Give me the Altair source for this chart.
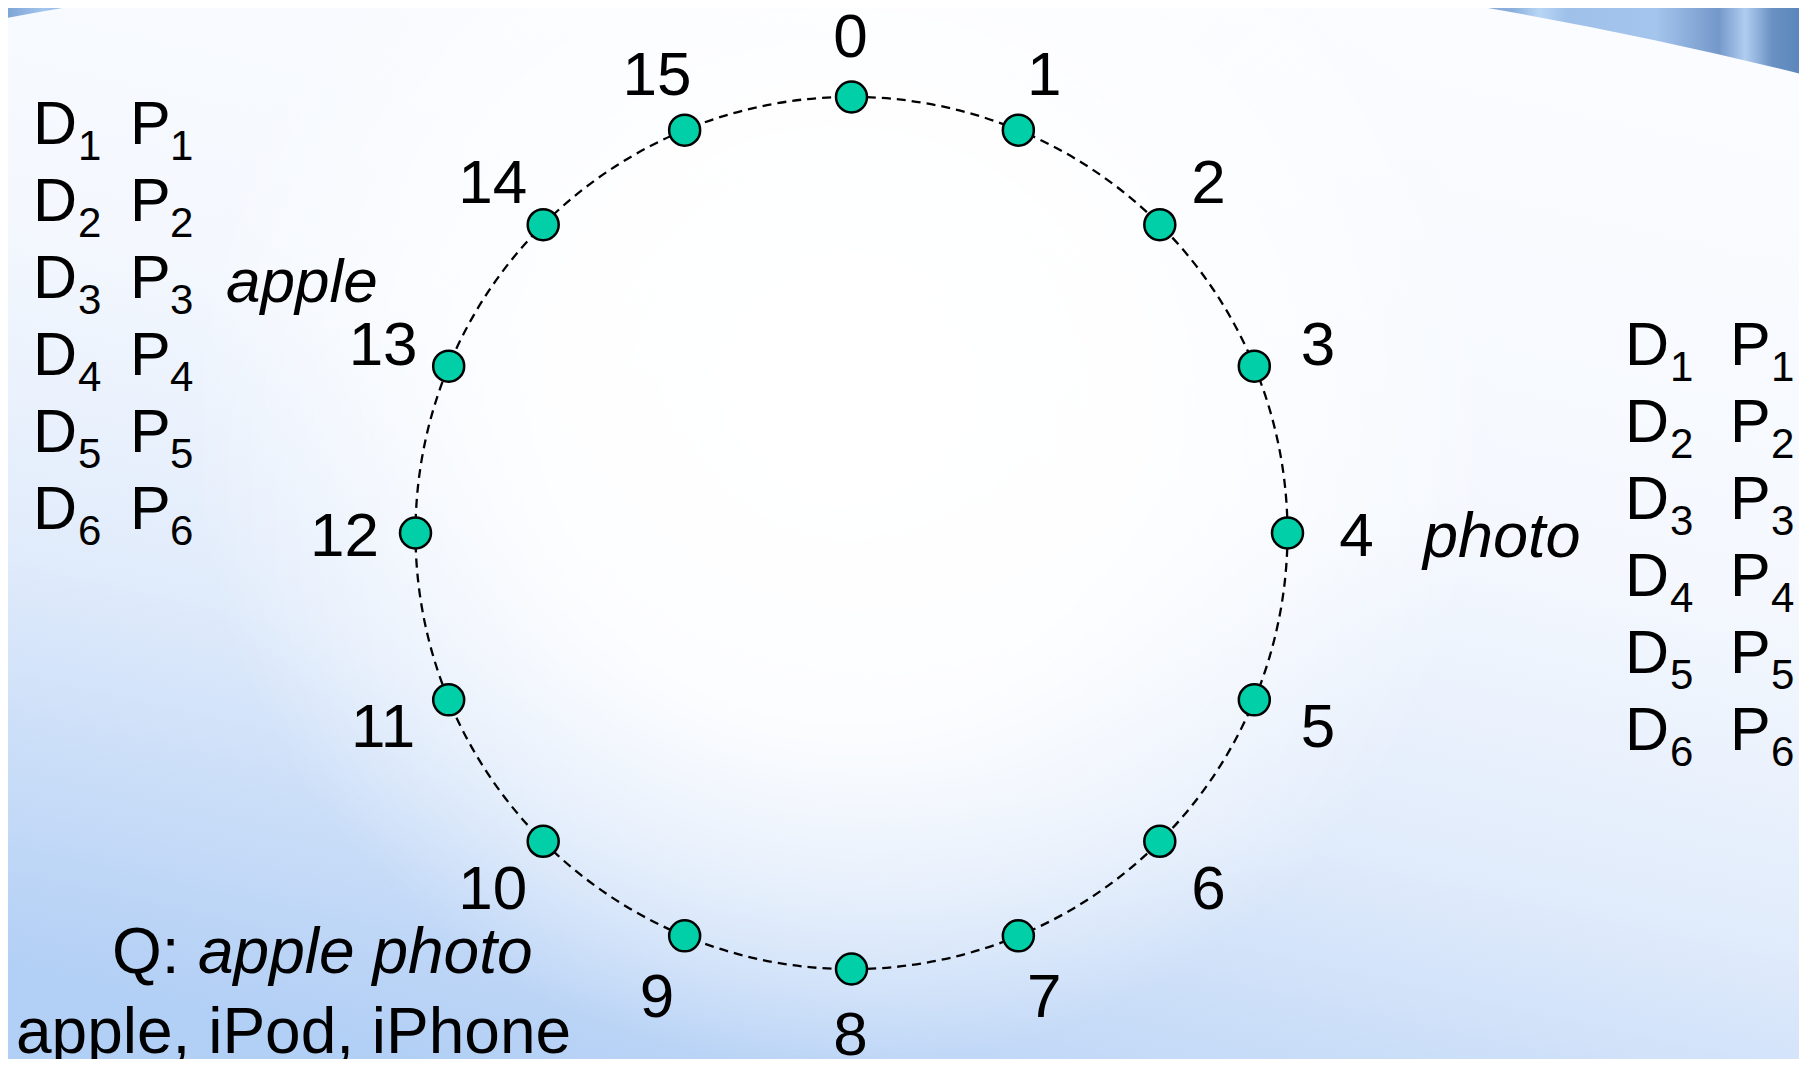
import altair as alt
import pandas as pd

# ---------------- data ----------------
node_ids = list(range(16))                      # identifiers on the ring
node_names = [str(i) for i in node_ids]
posting_rows = [1, 2, 3, 4, 5, 6]               # D_i P_i rows of each posting list
doc_letter = "D"
pos_letter = "P"
left_term = "apple"
right_term = "photo"
query_label = "Q:"
query_text = "apple photo"
expansion_text = "apple, iPod, iPhone"

# ---------------- layout (screen pixels) ----------------
W, H = 1791, 1051
M = 8
CX, CY = 851.5, 533.0
R_RING = 436.0
LCX, LCY = 850.6, 534.0
RLX, RLY = 506.0, 499.0
LINE = 77
SUB_DROP = 16
FONT = "Liberation Sans"

xs = alt.Scale(domain=[M, M + W], nice=False, zero=False)
ys = alt.Scale(domain=[M, M + H], nice=False, zero=False, reverse=True)


def XD(v):
    return alt.XDatum(v, scale=xs, axis=None)


def YD(v):
    return alt.YDatum(v, scale=ys, axis=None)


one = alt.Data(values=[{"k": 0}])


def stops(pairs):
    return [alt.GradientStop(offset=o, color=c) for o, c in pairs]


# ---------------- background ----------------
band_grad = alt.LinearGradient(
    gradient="linear", x1=0, y1=0, x2=1, y2=0,
    stops=stops([
        (0.00, "#7fa5d6"), (0.02, "#a3c5ee"), (0.035, "#8db3e1"), (0.06, "#9cc0ea"),
        (0.79, "#a7c7ee"), (0.805, "#b2d0f3"), (0.815, "#7ea5d3"), (0.84, "#8aafdc"),
        (0.855, "#b8d5f5"), (0.87, "#9fc1e9"), (0.92, "#a4c5ec"), (0.955, "#7498ca"),
        (0.97, "#b0cdf0"), (0.985, "#6a91c3"), (1.0, "#5c86bc"),
    ]),
)
band = alt.Chart(one).mark_rect(fill=band_grad, strokeWidth=0).encode(
    x=XD(M), x2=alt.X2Datum(M + W), y=YD(M), y2=alt.Y2Datum(M + H)
)

BODY_PATH = ("M-0.9235,-0.51Q0.0015,-0.688,0.9265,-0.4518"
             "L0.9265,0.56L-0.9235,0.56Z")
body_grad = alt.LinearGradient(
    gradient="linear", x1=0.68, y1=0, x2=0.32, y2=1,
    stops=stops([
        (0.0, "#fbfcff"), (0.42, "#f4f8fe"), (0.68, "#e0ebfb"), (1.0, "#b2cff5"),
    ]),
)
body = alt.Chart(one).mark_point(
    shape=BODY_PATH, filled=True, fill=body_grad, opacity=1, size=4.0e6, strokeWidth=0
).encode(x=XD(903.5), y=YD(533))

glow_grad = alt.RadialGradient(
    gradient="radial", x1=0.5, y1=0.5, r1=0, x2=0.5, y2=0.5, r2=0.5,
    stops=stops([
        (0.0, "rgba(255,255,255,1)"), (0.45, "rgba(255,255,255,0.9)"),
        (0.75, "rgba(255,255,255,0.45)"), (1.0, "rgba(255,255,255,0)"),
    ]),
)
glow = alt.Chart(one).mark_point(
    shape="circle", filled=True, fill=glow_grad, opacity=1, size=1300 ** 2, strokeWidth=0
).encode(x=XD(840), y=YD(420))

# ---------------- ring ----------------
ring = alt.Chart(one).mark_point(
    shape="circle", filled=False, stroke="black", strokeWidth=2.3, strokeDash=[9, 6],
    opacity=1, size=(2 * R_RING) ** 2
).encode(x=XD(CX), y=YD(CY))

ring_src = alt.Chart(pd.DataFrame({"id": node_ids, "name": node_names})).transform_calculate(
    ang="datum.id * 2 * PI / 16",
).transform_calculate(
    nx=f"{CX} + {R_RING} * sin(datum.ang)",
    ny=f"{CY} - {R_RING} * cos(datum.ang)",
    lx=f"{LCX} + {RLX} * sin(datum.ang)",
    ly=f"{LCY} - {RLY} * cos(datum.ang) + 22",
)

nodes = ring_src.mark_point(
    shape="circle", filled=True, fill="#00cfa8", stroke="black", strokeWidth=2.5,
    opacity=1, size=961
).encode(
    x=alt.X("nx:Q", scale=xs, axis=None),
    y=alt.Y("ny:Q", scale=ys, axis=None),
)

node_text = ring_src.mark_text(
    font=FONT, fontSize=62, align="center", baseline="alphabetic", color="black"
).encode(
    x=alt.X("lx:Q", scale=xs, axis=None),
    y=alt.Y("ly:Q", scale=ys, axis=None),
    text="name:N",
)


# ---------------- posting lists ----------------
def posting_list(x_doc, x_doc_sub, x_pos, x_pos_sub, y_first):
    src = alt.Chart(pd.DataFrame({"row": posting_rows})).transform_calculate(
        sub="toString(datum.row)",
        yb=f"{y_first} + {LINE} * (datum.row - 1)",
        ysub=f"{y_first} + {LINE} * (datum.row - 1) + {SUB_DROP}",
    )
    big = dict(font=FONT, fontSize=61, align="left", baseline="alphabetic", color="black")
    small = dict(font=FONT, fontSize=42, align="left", baseline="alphabetic", color="black")
    yb = alt.Y("yb:Q", scale=ys, axis=None)
    ysb = alt.Y("ysub:Q", scale=ys, axis=None)
    return [
        src.mark_text(text=doc_letter, **big).encode(x=XD(x_doc), y=yb),
        src.mark_text(**small).encode(x=XD(x_doc_sub), y=ysb, text="sub:N"),
        src.mark_text(text=pos_letter, **big).encode(x=XD(x_pos), y=yb),
        src.mark_text(**small).encode(x=XD(x_pos_sub), y=ysb, text="sub:N"),
    ]


left_list = posting_list(33, 78, 130, 170, 144)
right_list = posting_list(1625, 1670, 1730, 1771, 365)


def label(txt, x, y, size=62, style="normal"):
    return alt.Chart(one).mark_text(
        text=txt, font=FONT, fontSize=size, fontStyle=style, align="left",
        baseline="alphabetic", color="black"
    ).encode(x=XD(x), y=YD(y))


words = [
    label(left_term, 226, 302, 62, "italic"),
    label(right_term, 1423, 557, 63, "italic"),
    label(query_label, 112, 973, 64),
    label(query_text, 198, 973, 64, "italic"),
    label(expansion_text, 16, 1053, 64),
]

chart = alt.layer(
    band, body, glow, ring, nodes, node_text, *left_list, *right_list, *words
).properties(
    width=W, height=H, autosize="none", padding=0
).configure_view(stroke=None).configure(background="#ffffff")

chart.save("out.html", embed_options={"renderer": "svg", "actions": False})
